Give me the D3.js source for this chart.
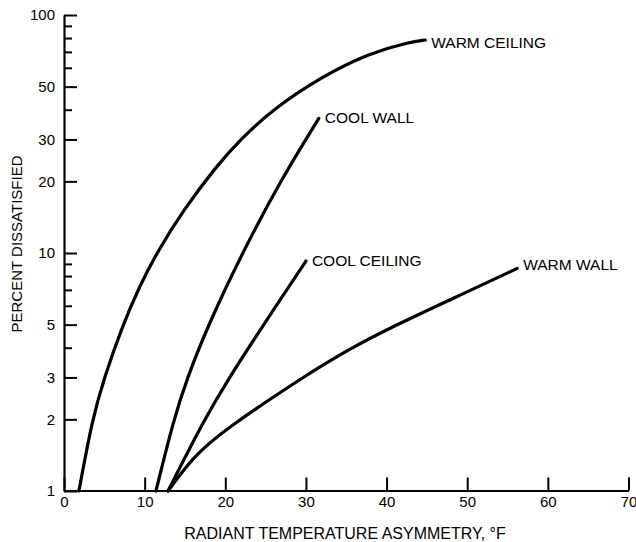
<!DOCTYPE html>
<html>
<head>
<meta charset="utf-8">
<script src="https://cdn.jsdelivr.net/npm/d3@7"></script>
<style>
  html, body { margin: 0; padding: 0; background: #fff; }
  svg { display: block; font-family: "Liberation Sans", Arial, sans-serif; }
</style>
</head>
<body>
<div id="chart"></div>
<script>
// Radiant asymmetry vs percent dissatisfied (log y)
const warmCeiling = [[1.85, 1], [3.5, 2], [5.0, 3], [7.2, 4.9], [9.4, 7.3], [11.5, 10], [14.7, 15], [19.0, 23.4], [21.8, 29.8], [25.9, 40.2], [32.1, 55.4], [37.9, 69.2], [42.9, 77], [44.8, 78.5]];
const coolWall = [[11.4, 1], [13.6, 2], [15.3, 3], [17.9, 5], [22.1, 10], [26.9, 20.3], [31.6, 36.8]];
const coolCeiling = [[12.9, 1], [17.4, 2], [20.5, 3], [24.3, 4.74], [30.0, 9.25]];
const warmWall = [[12.9, 1], [16.0, 1.39], [19.8, 1.8], [29.7, 3.02], [35.1, 3.91], [41.5, 5.05], [48.7, 6.55], [56.2, 8.62]];

const seriesNames = ['WARM CEILING', 'COOL WALL', 'COOL CEILING', 'WARM WALL'];
const seriesData = [warmCeiling, coolWall, coolCeiling, warmWall];

const xTicks = [0, 10, 20, 30, 40, 50, 60, 70];
const yMajor = [1, 2, 3, 5, 10, 20, 30, 50, 100];
const yMinor = [4, 6, 7, 8, 9, 40, 60, 70, 80, 90];

const W = 636, H = 542;
const svg = d3.select('#chart').append('svg')
  .attr('width', W).attr('height', H);

const x = d3.scaleLinear().domain([0, 70]).range([64, 628.5]);
const y = d3.scaleLog().domain([1, 100]).range([491, 15]);

// minor y ticks (short, inward)
svg.append('g')
  .attr('transform', `translate(${x(0)},0)`)
  .call(d3.axisLeft(y).tickValues(yMinor).tickSize(-8).tickFormat(''))
  .call(g => g.select('.domain').remove())
  .call(g => g.selectAll('line').attr('stroke-width', 2));

// major y ticks + axis line
svg.append('g')
  .attr('transform', `translate(${x(0)},0)`)
  .call(d3.axisLeft(y).tickValues(yMajor).tickSize(-13).tickSizeOuter(0).tickPadding(9).tickFormat(d3.format('d')))
  .call(g => g.select('.domain').attr('stroke-width', 2.2))
  .call(g => g.selectAll('line').attr('stroke-width', 2))
  .call(g => g.selectAll('text').attr('font-size', 15).attr('fill', '#000')
    .attr('font-family', '"Liberation Sans", Arial, sans-serif'));

// x axis
svg.append('g')
  .attr('transform', `translate(0,${y(1) - 0.5})`)
  .call(d3.axisBottom(x).tickValues(xTicks).tickSize(-13).tickSizeOuter(0).tickPadding(6))
  .call(g => g.select('.domain').attr('stroke-width', 2.2))
  .call(g => g.selectAll('line').attr('stroke-width', 2))
  .call(g => g.selectAll('text').attr('font-size', 15).attr('fill', '#000')
    .attr('font-family', '"Liberation Sans", Arial, sans-serif'));

// curves (B-spline keeps the hand-drawn curves smooth)
const line = d3.line()
  .x(d => x(d[0]))
  .y(d => y(d[1]))
  .curve(d3.curveBasis);

svg.selectAll('.curve').data(seriesData).join('path')
  .attr('class', 'curve')
  .attr('d', line)
  .attr('fill', 'none')
  .attr('stroke', '#000')
  .attr('stroke-width', 3.2)
  .attr('stroke-linecap', 'round');

// curve labels, just right of each curve's end
const labelDy = [8, 5, 5, 2];
svg.selectAll('.lbl').data(seriesData).join('text')
  .attr('class', 'lbl')
  .attr('x', d => x(d[d.length - 1][0]) + 6)
  .attr('y', (d, i) => y(d[d.length - 1][1]) + labelDy[i])
  .attr('font-size', 15.5)
  .attr('fill', '#000')
  .text((d, i) => seriesNames[i]);

// axis titles
svg.append('text')
  .attr('x', 345).attr('y', 539)
  .attr('text-anchor', 'middle')
  .attr('font-size', 16)
  .text('RADIANT TEMPERATURE ASYMMETRY, °F');

svg.append('text')
  .attr('transform', 'translate(22,244) rotate(-90)')
  .attr('text-anchor', 'middle')
  .attr('font-size', 15)
  .text('PERCENT DISSATISFIED');
</script>
</body>
</html>
